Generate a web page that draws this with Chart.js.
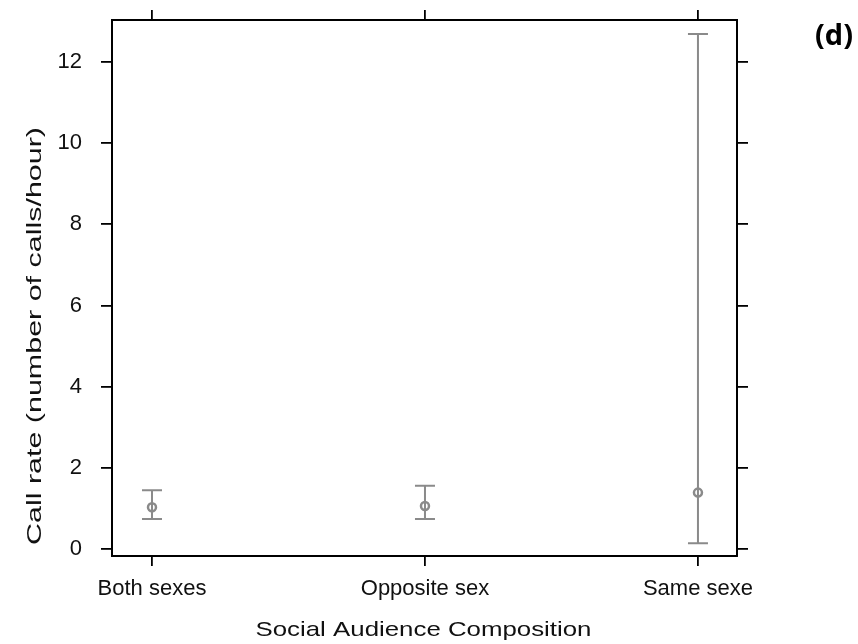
<!DOCTYPE html>
<html>
<head>
<meta charset="utf-8">
<script src="https://cdn.jsdelivr.net/npm/chart.js@4/dist/chart.umd.min.js"></script>
<style>
  html, body { margin: 0; padding: 0; background: #fff; }
  #wrap { position: relative; width: 858px; height: 644px; }
</style>
</head>
<body>
<div id="wrap"><canvas id="c"></canvas></div>
<script>
// données (d)
const categories = ['Both sexes', 'Opposite sex', 'Same sexe'];
const means = [1.03, 1.06, 1.39];
const lower = [0.74, 0.74, 0.14];
const upper = [1.45, 1.56, 12.69];
const yTicks = [0, 2, 4, 6, 8, 10, 12];

const GREY = '#8a8a8a';
const FONT = '"Liberation Sans", Arial, sans-serif';

// barres d'erreur dessinées via les échelles du graphique
const errorBars = {
  id: 'errorBars',
  beforeDatasetsDraw(chart) {
    const { ctx, scales: { x, y } } = chart;
    ctx.save();
    ctx.strokeStyle = GREY;
    ctx.lineWidth = 2;
    categories.forEach((_, i) => {
      const px = x.getPixelForValue(i);
      const top = y.getPixelForValue(upper[i]);
      const bot = y.getPixelForValue(lower[i]);
      ctx.beginPath();
      ctx.moveTo(px, top); ctx.lineTo(px, bot);
      ctx.moveTo(px - 10, top); ctx.lineTo(px + 10, top);
      ctx.moveTo(px - 10, bot); ctx.lineTo(px + 10, bot);
      ctx.stroke();
    });
    ctx.restore();
  }
};

// titres des axes (texte étiré comme sur l'original) + "(d)"
const titles = {
  id: 'titles',
  afterDraw(chart) {
    const { ctx, chartArea: a } = chart;
    ctx.save();
    ctx.fillStyle = '#111';
    ctx.font = '21px ' + FONT;
    ctx.textAlign = 'center';
    ctx.textBaseline = 'alphabetic';
    // titre Y
    ctx.save();
    ctx.translate(41, 336);
    ctx.rotate(-Math.PI / 2);
    ctx.scale(1.45, 1);
    ctx.fillText('Call rate (number of calls/hour)', 0, 0);
    ctx.restore();
    // titre X
    ctx.save();
    ctx.translate((a.left + a.right) / 2 - 1, 636);
    ctx.scale(1.23, 1);
    ctx.fillText('Social Audience Composition', 0, 0);
    ctx.restore();
    // étiquette du panneau
    ctx.font = 'bold 29px "Open Sans", sans-serif';
    ctx.textAlign = 'right';
    ctx.fillStyle = '#000';
    ctx.fillText('(d)', 853, 45);
    ctx.restore();
  }
};

const axisBase = {
  grid: { display: true, drawOnChartArea: false, drawTicks: true, tickLength: 10, color: '#000', lineWidth: 1.8 },
  border: { display: true, color: '#000', width: 2 },
};

// taille fixe des axes, sans marge ajoutée pour les étiquettes
const fixSize = (w, h) => s => {
  if (w != null) s.width = w;
  if (h != null) s.height = h;
  s.paddingTop = 0; s.paddingBottom = 0; s.paddingLeft = 0; s.paddingRight = 0;
};

new Chart(document.getElementById('c'), {
  type: 'scatter',
  data: {
    datasets: [{
      data: means.map((m, i) => ({ x: i, y: m })),
      pointStyle: 'circle',
      pointRadius: 4,
      pointHoverRadius: 4,
      borderColor: GREY,
      backgroundColor: 'rgba(0,0,0,0)',
      borderWidth: 2.5,
    }]
  },
  options: {
    animation: false,
    responsive: true,
    maintainAspectRatio: false,
    layout: { padding: 0 },
    plugins: { legend: { display: false }, tooltip: { enabled: false } },
    scales: {
      x: {
        ...axisBase,
        type: 'linear', position: 'bottom',
        min: -0.1465, max: 2.143,
        afterBuildTicks: s => { s.ticks = categories.map((_, i) => ({ value: i })); },
        afterFit: fixSize(null, 88),
        ticks: { color: '#111', padding: 10, maxRotation: 0, autoSkip: false,
                 font: { family: FONT, size: 22 }, callback: v => categories[v] },
      },
      x2: {
        ...axisBase,
        type: 'linear', position: 'top',
        min: -0.1465, max: 2.143,
        afterBuildTicks: s => { s.ticks = categories.map((_, i) => ({ value: i })); },
        afterFit: fixSize(null, 20),
        ticks: { display: false },
      },
      y: {
        ...axisBase,
        type: 'linear', position: 'left',
        min: -0.172, max: 13.035,
        grid: { ...axisBase.grid, tickLength: 11 },
        afterBuildTicks: s => { s.ticks = yTicks.map(v => ({ value: v })); },
        afterFit: fixSize(112, null),
        ticks: { color: '#111', padding: 19, font: { family: FONT, size: 22 } },
      },
      y2: {
        ...axisBase,
        type: 'linear', position: 'right',
        min: -0.172, max: 13.035,
        grid: { ...axisBase.grid, tickLength: 11 },
        afterBuildTicks: s => { s.ticks = yTicks.map(v => ({ value: v })); },
        afterFit: fixSize(121, null),
        ticks: { display: false },
      }
    }
  },
  plugins: [errorBars, titles]
});
</script>
</body>
</html>
